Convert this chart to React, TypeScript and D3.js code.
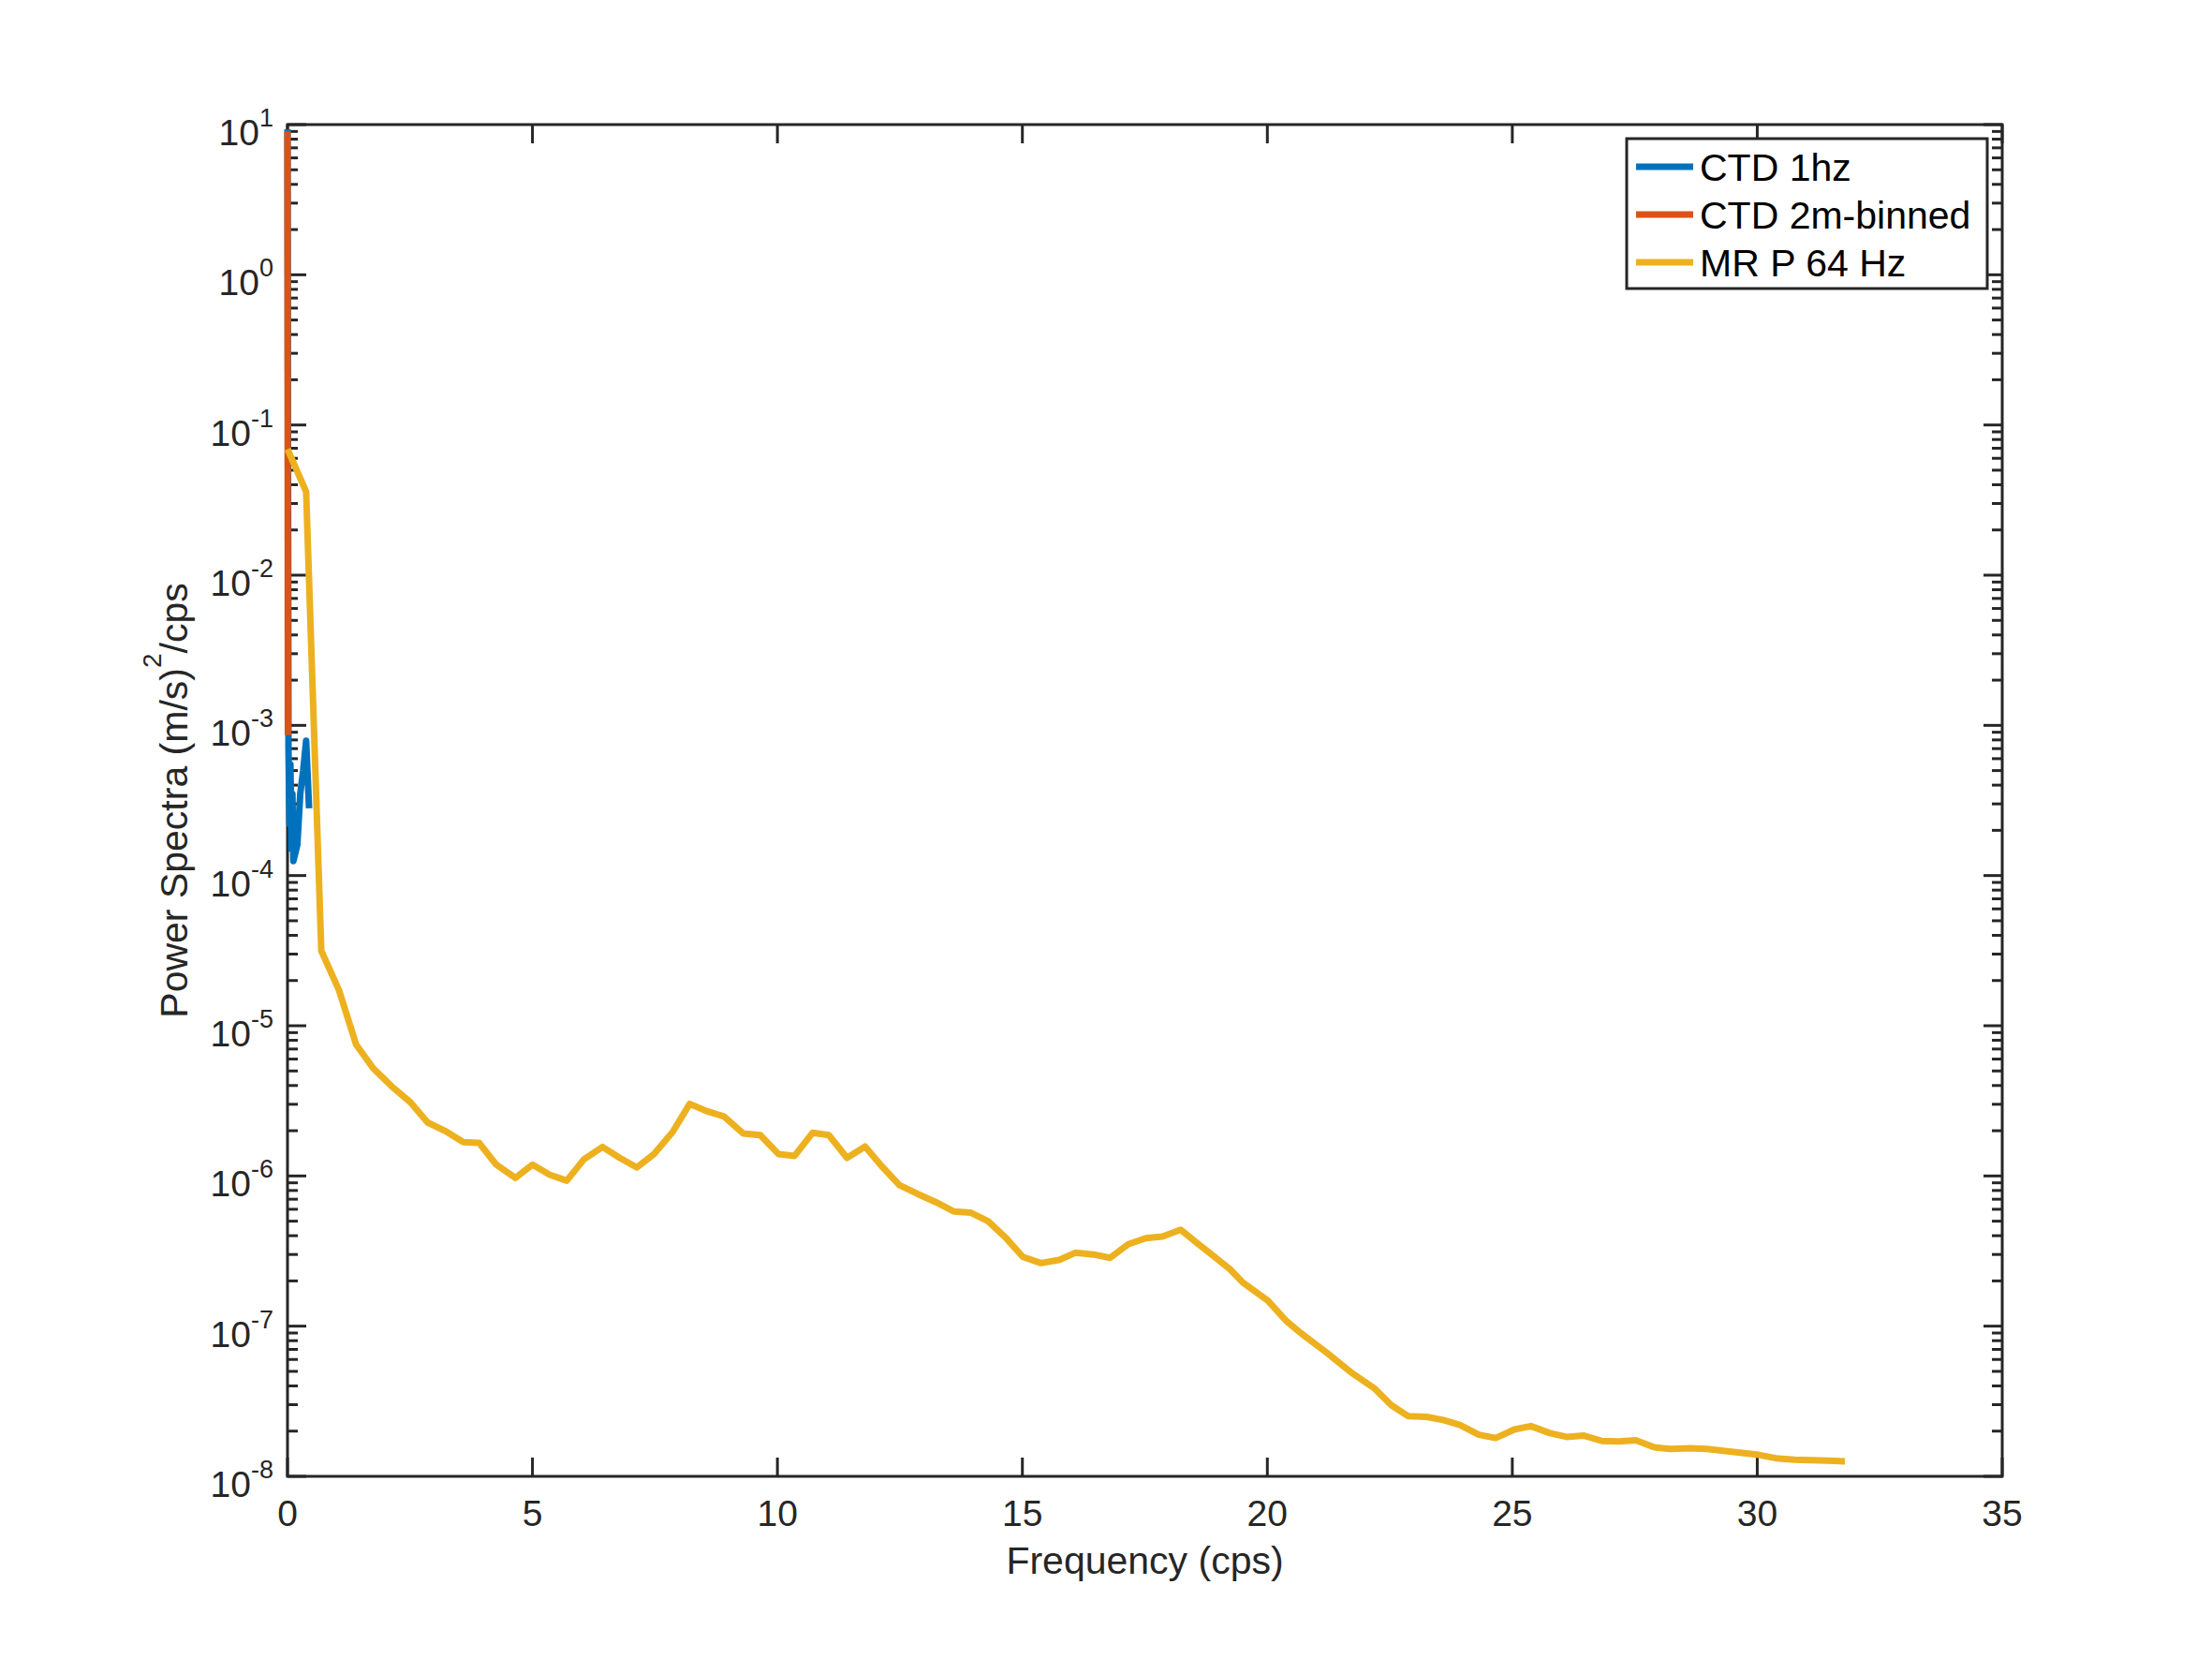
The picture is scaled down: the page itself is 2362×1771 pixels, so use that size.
import React, { useEffect, useRef } from 'react'
import * as d3 from 'd3'

// CTD 1hz spectrum
const ctd1Freq = [0, 0.02, 0.04, 0.06, 0.08, 0.1, 0.12, 0.2, 0.26, 0.32, 0.38, 0.44]
const ctd1Power = [9.3, 7.0e-4, 2.2e-4, 5.5e-4, 1.5e-4, 3.5e-4, 1.25e-4, 1.6e-4, 3.5e-4, 5.0e-4, 7.9e-4, 2.8e-4]

// CTD 2m-binned spectrum
const ctd2mFreq = [0, 0.008]
const ctd2mPower = [9.0, 8.6e-4]

// MR P 64 Hz spectrum
const mrFreq = [
  0, 0.38, 0.69, 1.05, 1.4, 1.75, 2.13, 2.51, 2.86, 3.21, 3.59, 3.91, 4.26, 4.65, 5.0, 5.35, 5.7,
  6.05, 6.43, 6.78, 7.13, 7.48, 7.86, 8.21, 8.56, 8.91, 9.3, 9.65, 10.02, 10.35, 10.72, 11.05,
  11.42, 11.79, 12.13, 12.49, 12.86, 13.23, 13.6, 13.94, 14.3, 14.67, 15.01, 15.38, 15.75, 16.08,
  16.45, 16.79, 17.16, 17.52, 17.86, 18.23, 18.56, 18.9, 19.24, 19.5, 20.01, 20.39, 20.69, 21.2,
  21.71, 22.18, 22.53, 22.87, 23.25, 23.59, 23.93, 24.32, 24.66, 25.04, 25.38, 25.77, 26.11,
  26.45, 26.83, 27.17, 27.52, 27.9, 28.24, 28.63, 28.97, 29.31, 29.69, 30.03, 30.38, 30.76,
  31.1, 31.44, 31.79,
]
const mrPower = [
  0.069, 0.036, 3.15e-5, 1.73e-5, 7.5e-6, 5.2e-6, 3.94e-6, 3.09e-6, 2.27e-6, 2.0e-6, 1.68e-6,
  1.66e-6, 1.19e-6, 9.7e-7, 1.19e-6, 1.02e-6, 9.3e-7, 1.29e-6, 1.56e-6, 1.32e-6, 1.14e-6, 1.4e-6,
  1.96e-6, 3.02e-6, 2.7e-6, 2.49e-6, 1.92e-6, 1.87e-6, 1.4e-6, 1.36e-6, 1.94e-6, 1.87e-6, 1.32e-6,
  1.57e-6, 1.16e-6, 8.7e-7, 7.6e-7, 6.7e-7, 5.8e-7, 5.7e-7, 5.0e-7, 3.85e-7, 2.89e-7, 2.63e-7,
  2.76e-7, 3.08e-7, 3.0e-7, 2.85e-7, 3.51e-7, 3.85e-7, 3.95e-7, 4.39e-7, 3.59e-7, 2.93e-7, 2.39e-7,
  1.95e-7, 1.48e-7, 1.08e-7, 8.95e-8, 6.7e-8, 4.92e-8, 3.87e-8, 2.98e-8, 2.52e-8, 2.49e-8, 2.37e-8,
  2.2e-8, 1.89e-8, 1.8e-8, 2.05e-8, 2.16e-8, 1.94e-8, 1.83e-8, 1.87e-8, 1.72e-8, 1.71e-8, 1.74e-8,
  1.56e-8, 1.52e-8, 1.54e-8, 1.52e-8, 1.48e-8, 1.43e-8, 1.39e-8, 1.32e-8, 1.29e-8, 1.28e-8, 1.27e-8,
  1.26e-8,
]

const xTicks = [0, 5, 10, 15, 20, 25, 30, 35]
const yExponents = [-8, -7, -6, -5, -4, -3, -2, -1, 0, 1]

const seriesNames = ['CTD 1hz', 'CTD 2m-binned', 'MR P 64 Hz']
const seriesColors = ['#0072BD', '#D95319', '#EDB120']

const FONT = '"Liberation Sans", Arial, Helvetica, sans-serif'
const AXIS = '#262626'

const SpectraChart: React.FC = () => {
  const ref = useRef<HTMLDivElement>(null)

  useEffect(() => {
    if (!ref.current) return
    const width = 2362
    const height = 1771
    const left = 307
    const right = 2138
    const top = 133
    const bottom = 1576

    const svg = d3
      .select(ref.current)
      .append('svg')
      .attr('width', width)
      .attr('height', height)
      .style('display', 'block')
      .style('background', '#ffffff')

    const x = d3.scaleLinear().domain([0, 35]).range([left, right])
    const y = d3.scaleLog().domain([1e-8, 10]).range([bottom, top])

    // data is clipped to the axes, but the stroke may spill over the edges
    svg
      .append('defs')
      .append('clipPath')
      .attr('id', 'plot-clip')
      .append('rect')
      .attr('x', left - 6)
      .attr('y', top - 6)
      .attr('width', right - left + 12)
      .attr('height', bottom - top + 12)

    // ticks (inside, mirrored on all sides)
    const ticks = svg.append('g').attr('stroke', AXIS).attr('stroke-width', 3)
    xTicks.forEach(t => {
      ticks.append('line').attr('x1', x(t)).attr('x2', x(t)).attr('y1', bottom).attr('y2', bottom - 20)
      ticks.append('line').attr('x1', x(t)).attr('x2', x(t)).attr('y1', top).attr('y2', top + 20)
    })
    yExponents.forEach(e => {
      const v = Math.pow(10, e)
      ticks.append('line').attr('x1', left).attr('x2', left + 20).attr('y1', y(v)).attr('y2', y(v))
      ticks.append('line').attr('x1', right).attr('x2', right - 20).attr('y1', y(v)).attr('y2', y(v))
      if (e < 1) {
        for (let k = 2; k <= 9; k++) {
          const m = k * v
          ticks.append('line').attr('x1', left).attr('x2', left + 11).attr('y1', y(m)).attr('y2', y(m))
          ticks.append('line').attr('x1', right).attr('x2', right - 11).attr('y1', y(m)).attr('y2', y(m))
        }
      }
    })

    // axes box
    svg
      .append('rect')
      .attr('x', left)
      .attr('y', top)
      .attr('width', right - left)
      .attr('height', bottom - top)
      .attr('fill', 'none')
      .attr('stroke', AXIS)
      .attr('stroke-width', 3)

    const series = [
      { f: ctd1Freq, p: ctd1Power },
      { f: ctd2mFreq, p: ctd2mPower },
      { f: mrFreq, p: mrPower },
    ]

    const line = d3
      .line<[number, number]>()
      .x(d => x(d[0]))
      .y(d => y(d[1]))

    const plot = svg.append('g').attr('clip-path', 'url(#plot-clip)')
    series.forEach((s, i) => {
      const pts: [number, number][] = s.f.map((f, j) => [f, s.p[j]])
      plot
        .append('path')
        .attr('d', line(pts))
        .attr('fill', 'none')
        .attr('stroke', seriesColors[i])
        .attr('stroke-width', 7)
        .attr('stroke-linejoin', 'round')
    })

    // x tick labels
    svg
      .selectAll('.xlabel')
      .data(xTicks)
      .enter()
      .append('text')
      .attr('x', d => x(d))
      .attr('y', 1629)
      .attr('text-anchor', 'middle')
      .attr('font-family', FONT)
      .attr('font-size', 39)
      .attr('fill', AXIS)
      .text(d => String(d))

    // y tick labels 10^e
    yExponents.forEach(e => {
      const t = svg
        .append('text')
        .attr('x', 292)
        .attr('y', y(Math.pow(10, e)) + 22)
        .attr('text-anchor', 'end')
        .attr('font-family', FONT)
        .attr('font-size', 39)
        .attr('fill', AXIS)
      t.append('tspan').text('10')
      t.append('tspan').attr('font-size', 27).attr('dy', -20).text(String(e))
    })

    // axis labels
    svg
      .append('text')
      .attr('x', (left + right) / 2)
      .attr('y', 1680)
      .attr('text-anchor', 'middle')
      .attr('font-family', FONT)
      .attr('font-size', 41)
      .attr('fill', AXIS)
      .text('Frequency (cps)')

    const yl = svg
      .append('text')
      .attr('transform', `translate(200, ${(top + bottom) / 2}) rotate(-90)`)
      .attr('text-anchor', 'middle')
      .attr('font-family', FONT)
      .attr('font-size', 41)
      .attr('fill', AXIS)
    yl.append('tspan').text('Power Spectra (m/s)')
    yl.append('tspan').attr('font-size', 28).attr('dy', -28).text('2')
    yl.append('tspan').attr('dy', 28).text('/cps')

    // legend
    const lg = svg.append('g')
    lg.append('rect')
      .attr('x', 1737)
      .attr('y', 148)
      .attr('width', 385)
      .attr('height', 160)
      .attr('fill', '#ffffff')
      .attr('stroke', AXIS)
      .attr('stroke-width', 3)
    seriesNames.forEach((name, i) => {
      const cy = 178 + i * 51
      lg.append('line')
        .attr('x1', 1747)
        .attr('x2', 1808)
        .attr('y1', cy)
        .attr('y2', cy)
        .attr('stroke', seriesColors[i])
        .attr('stroke-width', 7)
      lg.append('text')
        .attr('x', 1815)
        .attr('y', cy + 15)
        .attr('font-family', FONT)
        .attr('font-size', 41)
        .attr('fill', '#000000')
        .text(name)
    })

    return () => {
      svg.remove()
    }
  }, [])

  return <div ref={ref} style={{ position: 'absolute', left: 0, top: 0, width: 2362, height: 1771 }} />
}

export default function App() {
  return <SpectraChart />
}
